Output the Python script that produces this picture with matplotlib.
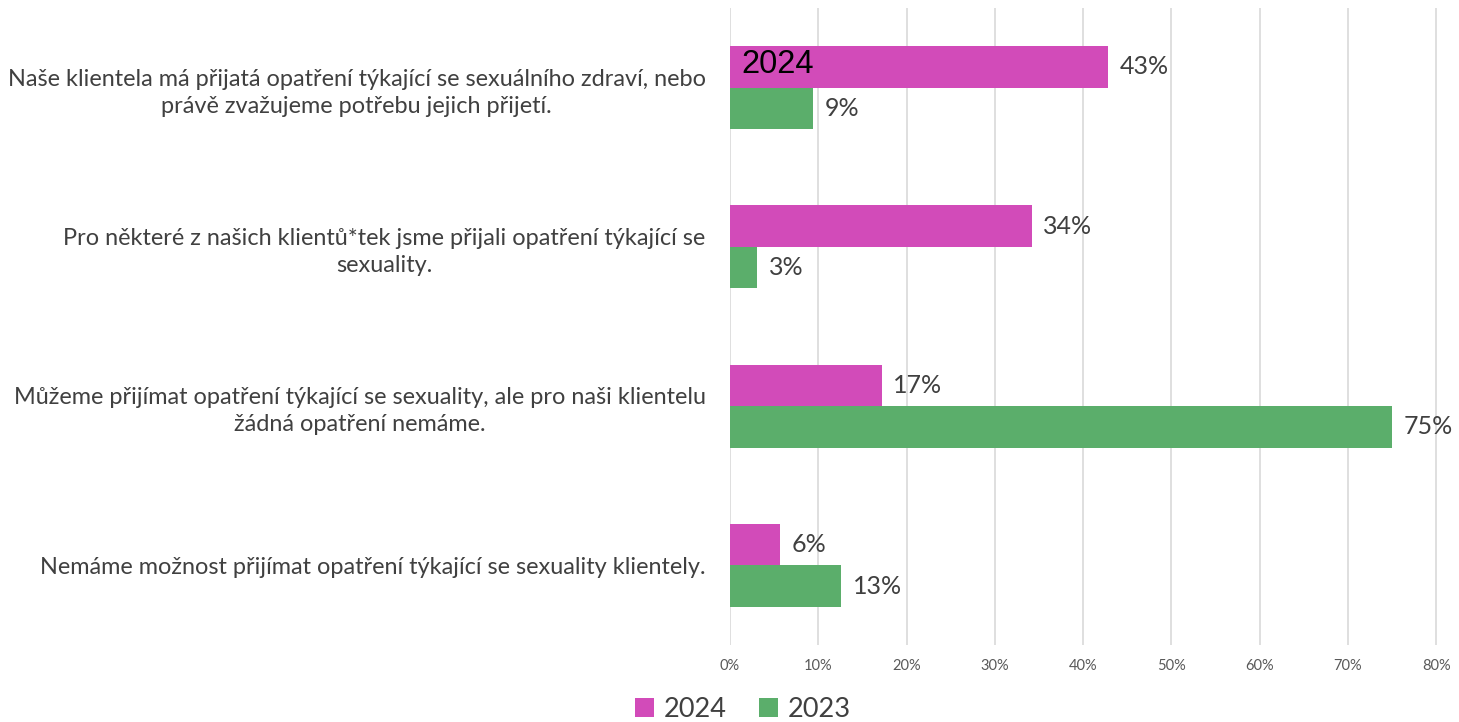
import matplotlib.pyplot as plt
import numpy as np

plt.rcParams['font.family'] = ['Lato', 'DejaVu Sans']

# Kategorie (shora dolů)
kategorie = [
    'Naše klientela má přijatá opatření týkající se sexuálního zdraví, nebo\nprávě zvažujeme potřebu jejich přijetí.',
    'Pro některé z našich klientů*tek jsme přijali opatření týkající se\nsexuality.',
    'Můžeme přijímat opatření týkající se sexuality, ale pro naši klientelu\nžádná opatření nemáme.',
    'Nemáme možnost přijímat opatření týkající se sexuality klientely.',
]
hodnoty_2024 = [42.8, 34.2, 17.2, 5.7]
hodnoty_2023 = [9.4, 3.1, 75.0, 12.6]
xticks = [0, 10, 20, 30, 40, 50, 60, 70, 80]

barva_2024 = '#D24BB9'
barva_2023 = '#5BAE6B'
seda = '#404040'

fig = plt.figure(figsize=(14.59, 7.22), dpi=100)
ax = fig.add_axes([0.5003, 0.1066, 0.4853, 0.8824])

y = np.arange(len(kategorie))
h = 0.26
ax.barh(y - h / 2, hodnoty_2024, height=h, color=barva_2024, label='2024', zorder=3)
ax.barh(y + h / 2, hodnoty_2023, height=h, color=barva_2023, label='2023', zorder=3)

for i in range(len(kategorie)):
    ax.text(hodnoty_2024[i] + 1.3, y[i] - h / 2, f'{int(hodnoty_2024[i] + 0.5)}%',
            va='center', ha='left', fontsize=18, color=seda)
    ax.text(hodnoty_2023[i] + 1.3, y[i] + h / 2, f'{int(hodnoty_2023[i] + 0.5)}%',
            va='center', ha='left', fontsize=18, color=seda)

# popisek vložený do první lišty
ax.text(1.3, y[0] - h / 2 - 0.018, '2024', va='center', ha='left', fontsize=23.5,
        color='black', family=['Liberation Sans', 'DejaVu Sans'], zorder=4)

ax.set_ylim(len(kategorie) - 0.5, -0.5)
ax.set_xlim(0, 80.2)
ax.set_yticks(y)
ax.set_yticklabels(kategorie, fontsize=16.9, color=seda, multialignment='center',
                   linespacing=1.35)
ax.set_xticks(xticks)
ax.set_xticklabels([f'{t}%' for t in xticks], fontsize=10.5, color='#595959')
ax.tick_params(axis='y', length=0, pad=17.5)
ax.tick_params(axis='x', length=0, pad=10)
ax.grid(axis='x', color='#D9D9D9', linewidth=1.2, zorder=0)
for s in ax.spines.values():
    s.set_visible(False)

fig.legend(loc='center', bbox_to_anchor=(0.509, 0.018), ncol=2, frameon=False,
           fontsize=19.5, handlelength=0.7, handleheight=0.7, handletextpad=0.35,
           columnspacing=1.2, labelcolor=seda)

fig.savefig('out.png', dpi=100)
